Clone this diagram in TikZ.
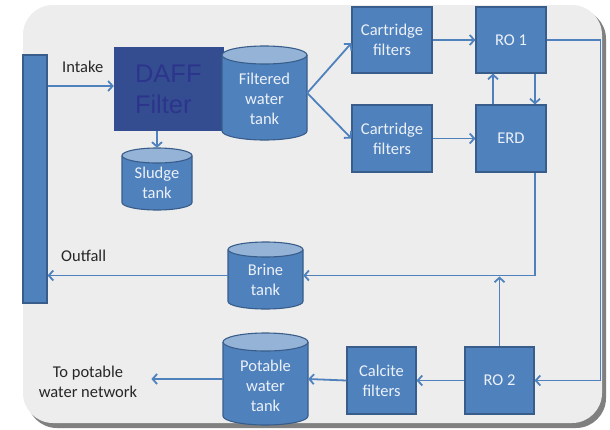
\documentclass[tikz,border=0pt]{standalone}
\usepackage{fontspec}
\setmainfont{Carlito}
\newfontfamily\arialfont{Liberation Sans}
\usetikzlibrary{arrows.meta,calc}

\definecolor{procblue}{RGB}{79,129,189}
\definecolor{procedge}{RGB}{56,93,138}
\definecolor{tanklid}{RGB}{149,179,215}
\definecolor{pagebg}{RGB}{237,237,237}
\definecolor{shadowgray}{RGB}{128,128,128}
\definecolor{daffblue}{RGB}{52,77,145}
\definecolor{dafftext}{RGB}{44,52,140}
\definecolor{lighttext}{RGB}{236,241,248}
\definecolor{labeltext}{RGB}{38,38,38}

\tikzset{
  every node/.style={font=\fontsize{16.5}{20}\selectfont},
  unit/.style={draw=procedge, line width=1.1pt, fill=procblue, inner sep=0pt,
               text=lighttext, align=center},
  flow/.style={draw=procblue, line width=1.8pt,
               -{Straight Barb[length=4.5pt,width=10pt]}},
  tag/.style={text=labeltext, inner sep=0pt, align=center},
  tankframe/.style={inner sep=0pt},
}

% storage tank: name, left, right, top, bottom, lid half-height, text y, text
\newcommand\storagetank[8]{%
  \pgfmathsetmacro\tkcx{(#2+#3)/2}%
  \pgfmathsetmacro\tkrx{(#3-#2)/2}%
  \path[fill=procblue, draw=procedge, line width=1.1pt]
    (#2,-#4-#6) -- (#2,-#5+#6)
    arc[start angle=180, end angle=360, x radius=\tkrx, y radius=#6]
    -- (#3,-#4-#6);
  \path[fill=tanklid, draw=procedge, line width=1.1pt]
    (\tkcx,-#4-#6) ellipse[x radius=\tkrx, y radius=#6];
  \node[tankframe, minimum width=#3-#2, minimum height=#5-#4] (#1)
    at (\tkcx,-#4/2-#5/2) {};
  \node[tag, text=lighttext] (#1 text) at (\tkcx,-#7) {#8};
}

\begin{document}
\begin{tikzpicture}[x=1pt, y=1pt]
\useasboundingbox (0,0) rectangle (610,-429);

% panel with drop shadow
\fill[shadowgray, rounded corners=30] (27,-9) rectangle (606,-428);
\fill[pagebg, rounded corners=30] (23,-5) rectangle (602,-423);

% sea
\node[unit, minimum width=24, minimum height=248] (sea) at (35,-179) {};

% pre-treatment
\node[fill=daffblue, inner sep=0pt, minimum width=110, minimum height=84,
      text width=68, align=left, text=dafftext,
      font=\arialfont\fontsize{25.5}{31}\selectfont] (daff) at (169,-89) {DAFF\\Filter};

\storagetank{filtered}{222}{307}{46}{140}{9}{98.5}{Filtered\\water\\tank}
\storagetank{sludge}{122}{192}{148}{210}{7.5}{183}{Sludge\\tank}
\storagetank{brine}{228}{303}{242}{309}{7.5}{280}{Brine\\tank}
\storagetank{potable}{223}{308}{333}{425}{9}{385.5}{Potable\\water\\tank}

\node[unit, minimum width=80, minimum height=66] (cart1) at (392,-40) {Cartridge\\filters};
\node[unit, minimum width=80, minimum height=67] (cart2) at (392,-138.5) {Cartridge\\filters};
\node[unit, minimum width=70, minimum height=66] (ro1) at (511,-40) {RO 1};
\node[unit, minimum width=70, minimum height=67] (erd) at (511,-138.5) {ERD};
\node[unit, minimum width=69, minimum height=67] (ro2) at (499.5,-380.5) {RO 2};
\node[unit, minimum width=69, minimum height=67] (calcite) at (381.5,-380.5) {Calcite\\filters};

% labels
\node[tag, anchor=base west] (intake) at (62,-72.5) {Intake};
\node[tag, anchor=base west] (outfall) at (61,-261) {Outfall};
\node[tag] (network) at (88,-382) {To potable\\water network};

% flows
\draw[flow] ($(sea.east |- daff.west)+(0,3)$) -- ($(daff.west)+(0,3)$);
\draw[flow] (daff.south -| sludge.north) -- (sludge.north);
\draw[flow] (filtered.east) -- ([yshift=-3]cart1.west);
\draw[flow] (filtered.east) -- (cart2.west);
\draw[flow] (cart1.east) -- (ro1.west);
\draw[flow] (cart2.east) -- (erd.west);
\draw[flow] ([xshift=-18]erd.north) -- ([xshift=-18]ro1.south);
\draw[flow] ([xshift=24]ro1.south) -- ([xshift=24]erd.north);
\draw[flow] (ro1.east) -- ++(54,0) |- (ro2.east);
\draw[flow] ([xshift=24]erd.south) |- (brine.east);
\draw[flow] (ro2.north) -- ($(ro2.north |- brine.east)+(0,-1)$);
\draw[flow] (brine.west) -- (brine.west -| sea.east);
\draw[flow] (ro2.west) -- (calcite.east);
\draw[flow] (calcite.west) -- (potable.east);
\draw[flow] (potable.west) -- ($(network.east |- potable.west)+(14,0)$);
\end{tikzpicture}
\end{document}
